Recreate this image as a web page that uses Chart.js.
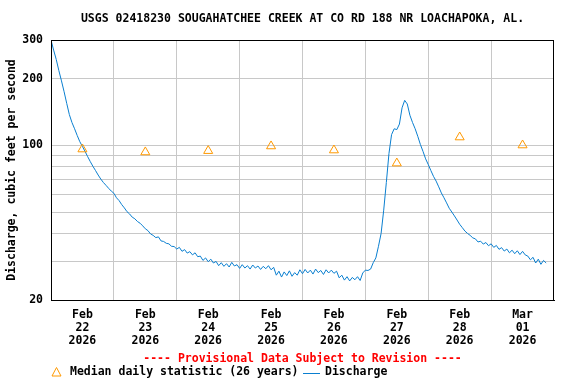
<!DOCTYPE html>
<html>
<head>
<meta charset="utf-8">
<style>
  html, body { margin: 0; padding: 0; background: #fff; }
  #wrap { width: 576px; height: 384px; position: relative; }
</style>
<script src="https://cdn.jsdelivr.net/npm/chart.js@4.4.1/dist/chart.umd.min.js"></script>
</head>
<body>
<div id="wrap"><canvas id="c" width="576" height="384"></canvas></div>
<script>
// ---- Data (hourly discharge, starting Feb 22 2026 00:00) ----
const titleText = "USGS 02418230 SOUGAHATCHEE CREEK AT CO RD 188 NR LOACHAPOKA, AL.";
const yAxisTitle = "Discharge, cubic feet per second";
const provisionalText = "---- Provisional Data Subject to Revision ----";
const legendMedian = "Median daily statistic (26 years)";
const legendDischarge = "Discharge";

const dayLabels = [
  ["Feb", "22", "2026"], ["Feb", "23", "2026"], ["Feb", "24", "2026"], ["Feb", "25", "2026"],
  ["Feb", "26", "2026"], ["Feb", "27", "2026"], ["Feb", "28", "2026"], ["Mar", "01", "2026"]
];
const yTickValues = [20, 30, 40, 50, 60, 70, 80, 90, 100, 200, 300];
const yLabeled = [20, 100, 200, 300];

// median daily statistic, plotted at noon of each day
const medianValues = [96.2, 93.3, 94.6, 99.3, 95.2, 83.1, 109, 100.3];

// discharge, one value per hour (hour 0 = Feb 22 00:00)
const dischargeValues = [
  300, 270, 245, 218, 196, 175, 155, 138, 127, 119, 111, 104,          // 0-11
  99, 94, 89, 84.5, 80.5, 77, 73.5, 70.5, 68, 66, 64, 62.2,            // 12-23
  60.8, 58, 56.3, 54, 52.2, 50.2, 49, 47.4, 46.6, 45.3, 44.5, 43.3,   // 24-35
  42, 41.2, 39.8, 39.2, 38.3, 38.6, 37.0, 36.8, 36.1, 35.9, 35.0, 34.9, // 36-47
  34.0, 34.6, 33.2, 33.8, 32.6, 33.1, 32.0, 32.7, 31.4, 31.6, 30.2, 31.0, // 48-59
  29.8, 30.6, 29.4, 29.9, 28.6, 29.5, 28.4, 29.2, 28.2, 29.6, 28.5, 28.9, // 60-71
  27.8, 28.9, 27.9, 28.6, 27.6, 28.8, 27.9, 28.5, 27.5, 28.4, 27.7, 28.6, // 72-83
  27.4, 28.1, 25.9, 27.0, 25.4, 26.8, 25.8, 27.1, 25.6, 26.6, 25.9, 27.4, // 84-95
  26.3, 27.5, 26.5, 27.3, 26.2, 27.6, 26.6, 27.2, 26.1, 27.4, 26.5, 27.3, // 96-107
  26.4, 27.0, 25.2, 25.9, 24.6, 25.5, 24.4, 25.3, 24.7, 25.5, 24.5, 26.5, // 108-119
  27.3, 27.2, 27.6, 29.5, 31, 35, 40, 51, 68, 92, 112, 119,            // 120-131
  118, 125, 148, 160, 154, 137, 127, 119, 110, 101, 94, 87,            // 132-143
  82, 77, 72.5, 69, 65, 61, 58, 55, 52, 50, 48, 46,                     // 144-155
  44, 42.5, 41, 40, 39.2, 38.2, 37.8, 36.6, 36.9, 35.8, 36.4, 35.2,    // 156-167
  35.9, 34.6, 35.3, 33.9, 34.5, 33.3, 34.0, 32.7, 33.6, 32.4, 33.4, 32.1, // 168-179
  33.2, 32.0, 31.6, 30.4, 31.2, 29.4, 30.6, 29.0, 30.2, 29.4           // 180-189
];

const FONT = "'DejaVu Sans Mono', 'Liberation Mono', monospace";
const FSIZE = 11.5;
const BLUE = '#0a7fd0';
const ORANGE = '#ff9900';
const GRID = '#c8c8c8';

const dischargeData = dischargeValues.map((v, i) => ({ x: i, y: v }));
const medianData = medianValues.map((v, k) => ({ x: 12 + 24 * k, y: v }));

const xTickValues = [];
for (let h = 0; h <= 192; h += 12) xTickValues.push(h);

const decor = {
  id: 'decor',
  afterDraw(chart) {
    const ctx = chart.ctx;
    const a = chart.chartArea;
    const cx = (a.left + a.right) / 2;
    ctx.save();
    // frame
    ctx.strokeStyle = '#000';
    ctx.lineWidth = 1;
    ctx.strokeRect(Math.round(a.left) + 0.5, Math.round(a.top) + 0.5,
                   Math.round(a.right - a.left) - 1, Math.round(a.bottom - a.top));
    ctx.font = 'bold ' + FSIZE + 'px ' + FONT;
    ctx.textBaseline = 'middle';
    // title
    ctx.fillStyle = '#000';
    ctx.textAlign = 'center';
    ctx.fillText(titleText, cx, 19);
    // y-axis title
    ctx.save();
    ctx.translate(12, (a.top + a.bottom) / 2);
    ctx.rotate(-Math.PI / 2);
    ctx.fillText(yAxisTitle, 0, 0);
    ctx.restore();
    // provisional
    ctx.fillStyle = '#ff0000';
    ctx.fillText(provisionalText, cx, 359);
    // legend
    const ly = 372.5;
    ctx.strokeStyle = ORANGE;
    ctx.lineWidth = 1;
    ctx.beginPath();
    ctx.moveTo(56.5, 367.5);
    ctx.lineTo(61, 376);
    ctx.lineTo(52, 376);
    ctx.closePath();
    ctx.stroke();
    ctx.fillStyle = '#000';
    ctx.textAlign = 'left';
    ctx.fillText(legendMedian, 70, ly);
    ctx.strokeStyle = BLUE;
    ctx.beginPath();
    ctx.moveTo(303, Math.round(ly) + 0.5);
    ctx.lineTo(320, Math.round(ly) + 0.5);
    ctx.stroke();
    ctx.fillText(legendDischarge, 325, ly);
    ctx.restore();
  }
};

new Chart(document.getElementById('c'), {
  type: 'line',
  data: {
    datasets: [
      {
        label: legendDischarge,
        data: dischargeData,
        borderColor: BLUE,
        borderWidth: 1,
        pointRadius: 0,
        tension: 0,
        fill: false,
        order: 2
      },
      {
        label: legendMedian,
        data: medianData,
        showLine: false,
        pointStyle: 'triangle',
        pointRadius: 5.2,
        borderColor: ORANGE,
        backgroundColor: 'rgba(0,0,0,0)',
        pointBorderWidth: 1,
        order: 1
      }
    ]
  },
  options: {
    responsive: false,
    animation: false,
    devicePixelRatio: 1,
    layout: { padding: { left: 0, right: 22, top: 40, bottom: 34 } },
    plugins: {
      legend: { display: false },
      title: { display: false },
      tooltip: { enabled: false }
    },
    scales: {
      x: {
        type: 'linear',
        min: 0,
        max: 192,
        afterBuildTicks(scale) { scale.ticks = xTickValues.map(v => ({ value: v })); },
        afterFit(scale) { scale.height = 50; },
        grid: {
          drawTicks: false,
          color: (c) => (c.tick && c.tick.value % 24 === 0 && c.tick.value > 0 && c.tick.value < 192) ? GRID : 'rgba(0,0,0,0)',
          lineWidth: 1
        },
        border: { display: true, color: '#000', width: 1 },
        ticks: {
          autoSkip: false,
          maxRotation: 0,
          padding: 9,
          color: '#000',
          font: { family: FONT, size: FSIZE, weight: 'bold', lineHeight: 1.13 },
          callback: (v) => {
            if ((v - 12) % 24 === 0) return dayLabels[(v - 12) / 24];
            return '';
          }
        }
      },
      y: {
        type: 'logarithmic',
        min: 20,
        max: 300,
        afterBuildTicks(scale) { scale.ticks = yTickValues.map(v => ({ value: v })); },
        afterFit(scale) { scale.width = 51; },
        grid: {
          drawTicks: false,
          color: (c) => (c.tick && c.tick.value > 20 && c.tick.value < 300) ? GRID : 'rgba(0,0,0,0)',
          lineWidth: 1
        },
        border: { display: true, color: '#000', width: 1 },
        ticks: {
          autoSkip: false,
          padding: 8,
          color: '#000',
          font: { family: FONT, size: FSIZE, weight: 'bold' },
          callback: (v) => yLabeled.includes(v) ? String(v) : ''
        }
      }
    }
  },
  plugins: [decor]
});
</script>
</body>
</html>
